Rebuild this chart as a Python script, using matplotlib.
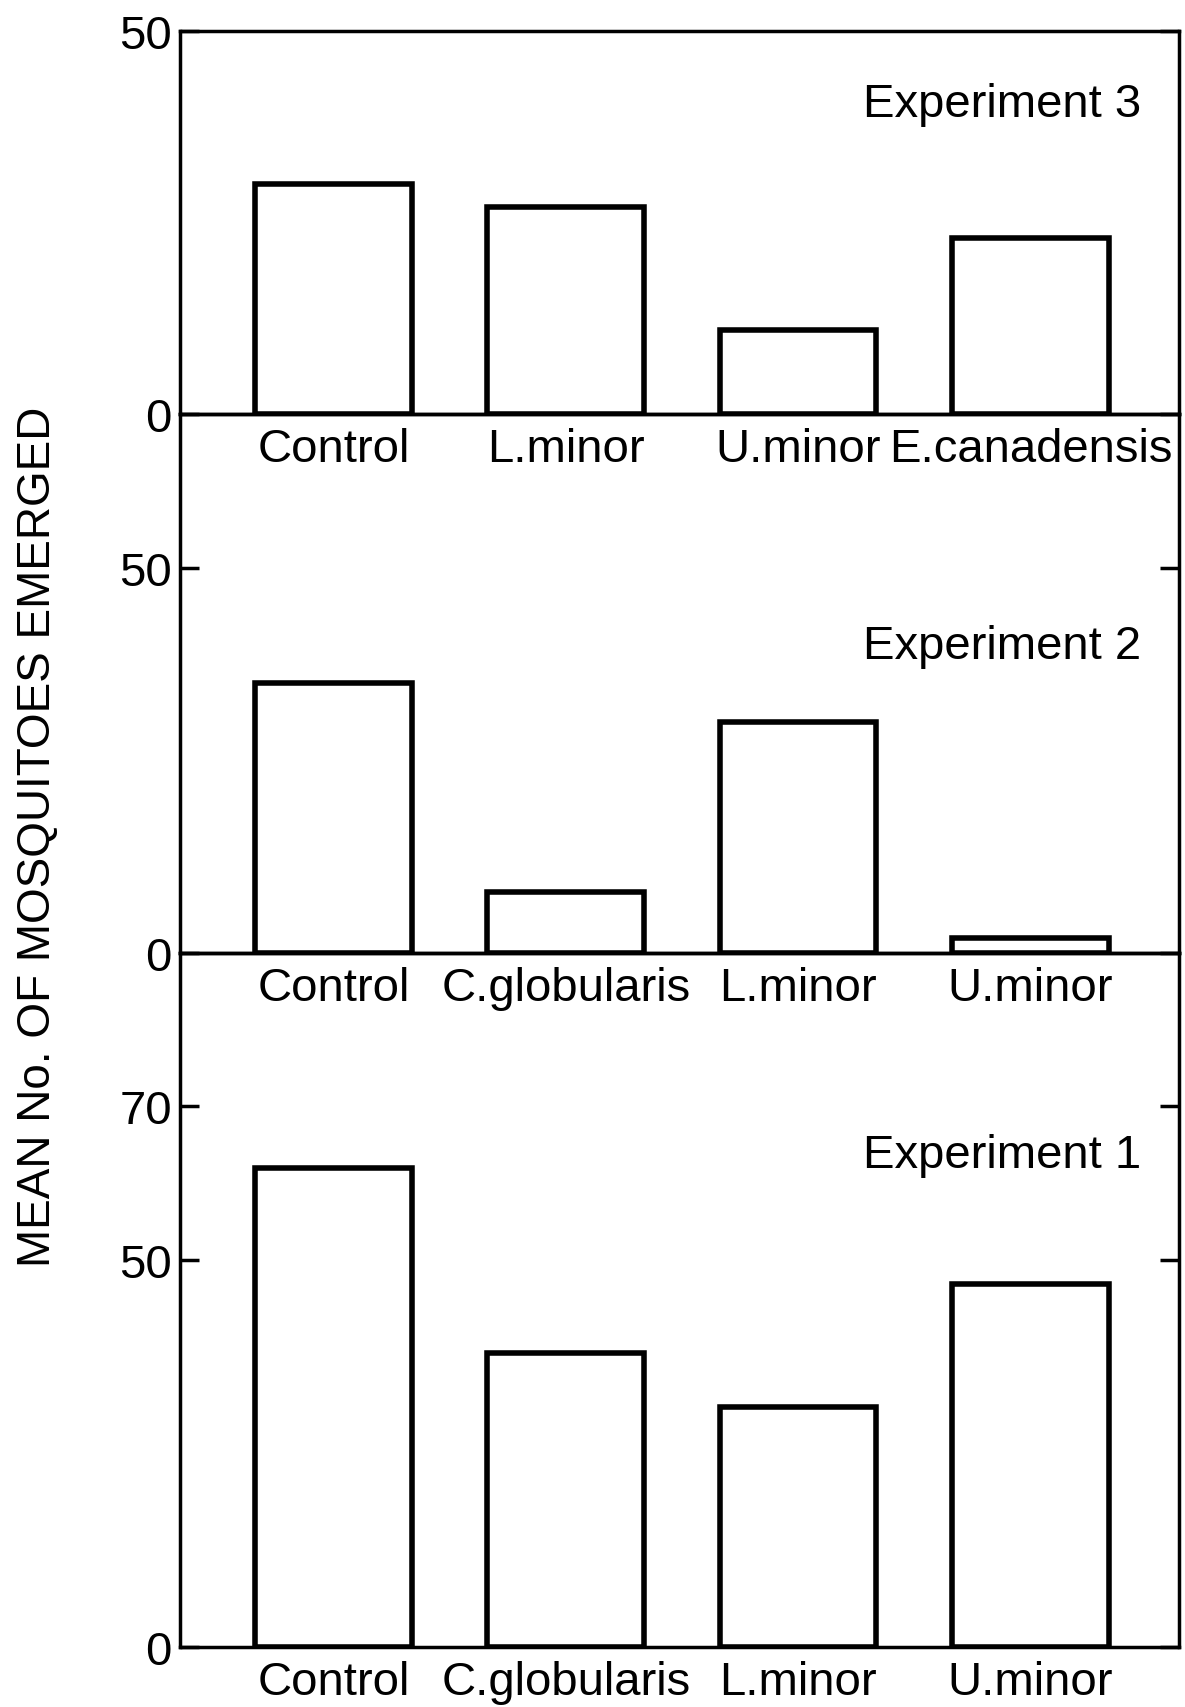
import matplotlib.pyplot as plt

plt.rcParams['font.family'] = ['Liberation Sans', 'DejaVu Sans']

# Data
exp3_labels = ["Control", "L.minor", "U.minor", "E.canadensis"]
exp3_values = [30, 27, 11, 23]

exp2_labels = ["Control", "C.globularis", "L.minor", "U.minor"]
exp2_values = [35, 8, 30, 2]

exp1_labels = ["Control", "C.globularis", "L.minor", "U.minor"]
exp1_values = [62, 38, 31, 47]

fig = plt.figure(figsize=(11.85, 17.08), dpi=100)

# Three stacked panels sharing the same frame width
ax3 = fig.add_axes([0.152, 0.757, 0.843, 0.224])
ax2 = fig.add_axes([0.152, 0.4413, 0.843, 0.3157])
ax1 = fig.add_axes([0.152, 0.035, 0.843, 0.4063])

panels = [
    (ax3, exp3_labels, exp3_values, 50, [0, 50], "Experiment 3", 0.81),
    (ax2, exp2_labels, exp2_values, 69.9, [0, 50], "Experiment 2", 0.57),
    (ax1, exp1_labels, exp1_values, 89.7, [0, 50, 70], "Experiment 1", 0.71),
]

for ax, labels, values, ytop, yticks, title, title_y in panels:
    # transparent background so the panel below doesn't hide the labels above
    ax.patch.set_visible(False)

    x = range(len(labels))
    ax.bar(x, values, width=0.675, color='white', edgecolor='black', linewidth=4)
    ax.set_xlim(-0.66, 3.64)
    ax.set_ylim(0, ytop)

    ax.set_xticks(list(x))
    ax.set_xticklabels(labels, fontsize=34)
    ax.set_yticks(yticks)
    ax.set_yticklabels([str(t) for t in yticks], fontsize=34)

    ax.tick_params(axis='x', length=0, pad=9)
    ax.tick_params(axis='y', direction='in', length=14, width=2.5,
                   left=True, right=True, pad=6)

    for side in ['left', 'right', 'top', 'bottom']:
        ax.spines[side].set_linewidth(2.5)

    # Experiment title inside each panel
    ax.text(0.962, title_y, title, transform=ax.transAxes,
            ha='right', va='center', fontsize=34)

# Shared y-axis label
fig.text(0.032, 0.51, "MEAN No. OF MOSQUITOES EMERGED", rotation=90,
         ha='center', va='center', fontsize=33)

plt.savefig('out.png', dpi=100)
plt.close()
